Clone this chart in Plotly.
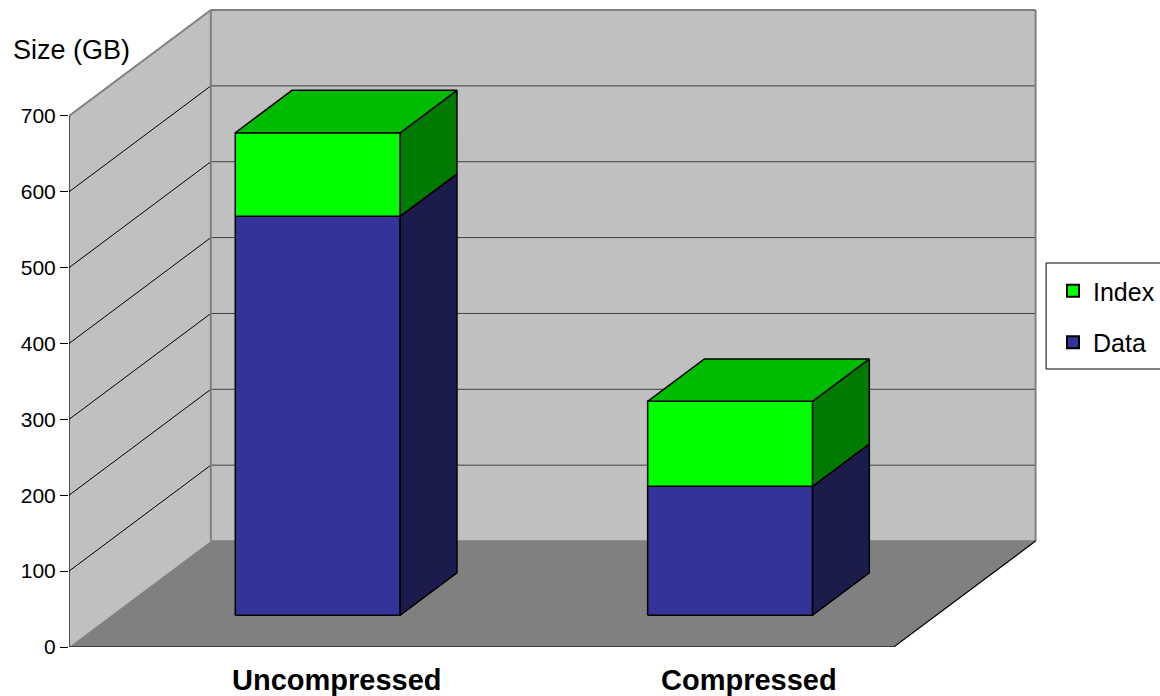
import plotly.graph_objects as go

# ---------------- data ----------------
categories = ["Uncompressed", "Compressed"]
data_gb = [526, 170]
index_gb = [110, 112]
y_ticks = [0, 100, 200, 300, 400, 500, 600, 700]
axis_title = "Size (GB)"

# ---------------- styling / geometry ----------------
FONT = "Liberation Sans, Arial, sans-serif"
AXIS_MAX = 700
DX = 0.344        # depth offset in category units
DY = 139.7        # depth offset in value units
BAR_HALF = 0.2    # half bar width (category units)
D0, D1 = 0.3, 0.7  # bar depth span (fraction of floor depth)
X_LO, X_HI = -0.5, len(categories) - 0.5

WALL = "#C0C0C0"
FLOOR = "#808080"
WALL_EDGE = "#808080"
GRID_BACK = "#404040"
GRID_SIDE = "#000000"

colors = {
    "Data": {"front": "#333399", "side": "#1B1B4C", "top": "#262673"},
    "Index": {"front": "#00FF00", "side": "#007A00", "top": "#00BB00"},
}


def P(x, v, d):
    return x + d * DX, v + d * DY


def poly(pts, fill, line_color="black", width=1.5):
    xs = [p[0] for p in pts] + [pts[0][0]]
    ys = [p[1] for p in pts] + [pts[0][1]]
    return go.Scatter(x=xs, y=ys, mode="lines", fill="toself", fillcolor=fill,
                      line=dict(color=line_color, width=width),
                      showlegend=False, hoverinfo="skip")


def seg(p1, p2, color, width=1.0):
    return go.Scatter(x=[p1[0], p2[0]], y=[p1[1], p2[1]], mode="lines",
                      line=dict(color=color, width=width),
                      showlegend=False, hoverinfo="skip")


fig = go.Figure()

# walls and floor
left_wall = [P(X_LO, 0, 0), P(X_LO, AXIS_MAX, 0), P(X_LO, AXIS_MAX, 1), P(X_LO, 0, 1)]
back_wall = [P(X_LO, 0, 1), P(X_HI, 0, 1), P(X_HI, AXIS_MAX, 1), P(X_LO, AXIS_MAX, 1)]
floor = [P(X_LO, 0, 0), P(X_HI, 0, 0), P(X_HI, 0, 1), P(X_LO, 0, 1)]
fig.add_trace(poly(left_wall, WALL, WALL, 0.1))
fig.add_trace(poly(back_wall, WALL, WALL, 0.1))
fig.add_trace(poly(floor, FLOOR, FLOOR, 0.1))

# gridlines
for t in y_ticks[1:-1]:
    fig.add_trace(seg(P(X_LO, t, 0), P(X_LO, t, 1), GRID_SIDE, 1))
    fig.add_trace(seg(P(X_LO, t, 1), P(X_HI, t, 1), GRID_BACK, 1))

# wall edges
fig.add_trace(seg(P(X_LO, AXIS_MAX, 0), P(X_LO, AXIS_MAX, 1), WALL_EDGE, 2))
fig.add_trace(seg(P(X_LO, AXIS_MAX, 1), P(X_HI, AXIS_MAX, 1), WALL_EDGE, 2))
fig.add_trace(seg(P(X_LO, 0, 1), P(X_LO, AXIS_MAX, 1), WALL_EDGE, 2))
fig.add_trace(seg(P(X_HI, 0, 1), P(X_HI, AXIS_MAX, 1), WALL_EDGE, 2))
fig.add_trace(seg(P(X_LO, 0, 1), P(X_HI, 0, 1), WALL_EDGE, 1.5))
# floor front/right edges and axis line
fig.add_trace(seg(P(X_LO, 0, 0), P(X_HI, 0, 0), "black", 1.2))
fig.add_trace(seg(P(X_HI, 0, 0), P(X_HI, 0, 1), "black", 1.2))
fig.add_trace(seg(P(X_LO, 0, 0), P(X_LO, AXIS_MAX, 0), "black", 1.2))


def add_block(i, base, top, c):
    x0, x1 = i - BAR_HALF, i + BAR_HALF
    front = [P(x0, base, D0), P(x1, base, D0), P(x1, top, D0), P(x0, top, D0)]
    side = [P(x1, base, D0), P(x1, base, D1), P(x1, top, D1), P(x1, top, D0)]
    topf = [P(x0, top, D0), P(x1, top, D0), P(x1, top, D1), P(x0, top, D1)]
    fig.add_trace(poly(front, c["front"]))
    fig.add_trace(poly(side, c["side"]))
    fig.add_trace(poly(topf, c["top"]))


for i, cat in enumerate(categories):
    add_block(i, 0, data_gb[i], colors["Data"])
    add_block(i, data_gb[i], data_gb[i] + index_gb[i], colors["Index"])

# legend entries
for name, grp in [("Index", "g1"), ("Data", "g2")]:
    fig.add_trace(go.Scatter(x=[None], y=[None], mode="markers", name=name,
                             legendgroup=grp,
                             marker=dict(symbol="square", size=16,
                                         color=colors[name]["front"],
                                         line=dict(color="black", width=1))))

PLOT_W = 1160 - 69
PLOT_H = 647
CAT_PX = 412.75
Y_PX = 0.7586

# category labels
for i, cat in enumerate(categories):
    fig.add_annotation(x=i + 0.15, y=-33 / PLOT_H, xref="x", yref="paper", text=cat,
                       showarrow=False, xanchor="center", yanchor="middle",
                       font=dict(family=FONT, size=29, color="black", weight="bold"))

fig.add_annotation(x=-58 / PLOT_W, y=(PLOT_H - 50) / PLOT_H, xref="paper", yref="paper",
                   text=axis_title, showarrow=False, xanchor="left", yanchor="middle",
                   font=dict(family=FONT, size=27, color="black"))

# legend frame
fig.add_shape(type="rect", xref="paper", yref="paper",
              x0=(1047 - 69) / PLOT_W, x1=(1170 - 69) / PLOT_W,
              y0=(PLOT_H - 369) / PLOT_H, y1=(PLOT_H - 263) / PLOT_H,
              line=dict(color="black", width=1), fillcolor="white", layer="above")

fig.update_layout(
    width=1160, height=696,
    margin=dict(l=69, r=0, t=0, b=49),
    paper_bgcolor="white", plot_bgcolor="white",
    showlegend=True,
    legend=dict(x=(1054 - 69) / PLOT_W, y=(PLOT_H - 268) / PLOT_H, xanchor="left", yanchor="top",
                borderwidth=0, bgcolor="rgba(0,0,0,0)",
                font=dict(family=FONT, size=25, color="black"),
                traceorder="grouped", tracegroupgap=16, itemsizing="constant"),
    xaxis=dict(range=[X_LO, X_LO + PLOT_W / CAT_PX], visible=False, fixedrange=True),
    yaxis=dict(range=[0, PLOT_H / Y_PX], tickvals=y_ticks, ticks="outside", ticklen=8,
               tickcolor="black", tickwidth=1, showgrid=False, zeroline=False,
               showline=False, tickfont=dict(family=FONT, size=21, color="black"),
               fixedrange=True),
)

fig.write_html("out.html")
